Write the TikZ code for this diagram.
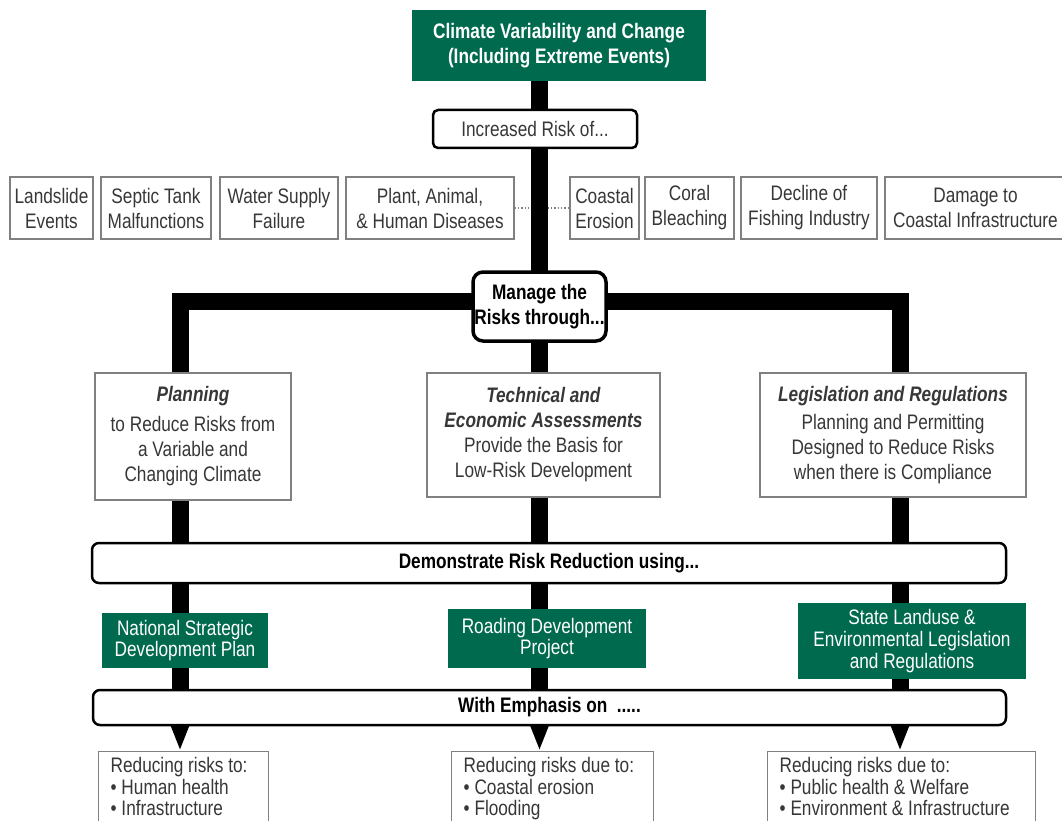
\documentclass[tikz,border=0pt]{standalone}
\usepackage{fontspec}
\setmainfont{Liberation Sans}[FakeStretch=0.82]
\usetikzlibrary{arrows.meta,backgrounds}
\definecolor{climgreen}{RGB}{0,106,78}
\definecolor{boxtext}{RGB}{55,55,55}

\begin{document}
\begin{tikzpicture}[x=1pt,y=-1pt,
	every node/.style={font=\fontsize{21}{25}\selectfont},
	greenbox/.style={fill=climgreen,text=white,align=center,inner sep=0pt},
	riskbox/.style={draw=gray,line width=1.4pt,fill=white,text=boxtext,align=center,inner sep=0pt,minimum height=62pt},
	mainbox/.style={draw=gray,line width=1.4pt,fill=white,text=boxtext,align=center,inner sep=0pt},
	roundbox/.style={draw=black,line width=2.5pt,rounded corners=7pt,fill=white,align=center,inner sep=0pt,font=\fontsize{21}{25}\selectfont\bfseries},
	outcome/.style={draw=gray,line width=1.4pt,fill=white,text=boxtext,align=flush left,anchor=north west,inner xsep=12pt,inner ysep=6pt,text depth=60pt,font=\fontsize{21}{21.5}\selectfont},
	spine/.style={line width=17pt,black},
	tip/.style={-{Triangle[width=17pt,length=26pt]}}
]
	\useasboundingbox (0,0) rectangle (1062,821);
	\clip (0,0) rectangle (1062,821);

	\node[greenbox,minimum width=294pt,minimum height=71pt,font=\fontsize{21}{25}\selectfont\bfseries] (climate) at (559,45.5) {Climate Variability and Change\\(Including Extreme Events)};
	\node[roundbox,rounded corners=5pt,minimum width=204pt,minimum height=38pt,text=boxtext,font=\fontsize{21}{25}\selectfont] (incr) at (535,129) {Increased Risk of...};

	\node[riskbox,minimum width=83pt] (landslide) at (51.5,208) {Landslide\\Events};
	\node[riskbox,minimum width=110pt] (septic) at (156,208) {Septic Tank\\Malfunctions};
	\node[riskbox,minimum width=118pt] (water) at (279,208) {Water Supply\\Failure};
	\node[riskbox,minimum width=168pt] (disease) at (430,208) {Plant, Animal,\\\& Human Diseases};
	\node[riskbox,minimum width=69pt] (coastal) at (604.5,208) {Coastal\\Erosion};
	\node[riskbox,minimum width=89pt] (coral) at (689.5,208) {Coral\\Bleaching};
	\node[riskbox,minimum width=136pt] (fishing) at (809,208) {Decline of\\Fishing Industry};
	\node[riskbox,minimum width=181pt] (damage) at (975.5,208) {Damage to\\Coastal Infrastructure};

	\node[roundbox,line width=3.5pt,rounded corners=10pt,minimum width=133pt,minimum height=69pt] (manage) at (539.5,306.5) {Manage the\\Risks through...};
	\coordinate (lturn) at (180,301);
	\coordinate (rturn) at (900,301);

	\node[mainbox,minimum width=196pt,minimum height=127pt] (plan) at (193,436.5) {\textbf{\textit{Planning}}\\[5pt]to Reduce Risks from\\a Variable and\\Changing Climate};
	\node[mainbox,minimum width=233pt,minimum height=124pt] (tech) at (543.5,435) {\textbf{\textit{Technical and}}\\\textbf{\textit{Economic Assessments}}\\Provide the Basis for\\Low-Risk Development};
	\node[mainbox,minimum width=266pt,minimum height=124pt] (legis) at (893,435) {\textbf{\textit{Legislation and Regulations}}\\[3pt]Planning and Permitting\\Designed to Reduce Risks\\when there is Compliance};

	\node[roundbox,minimum width=914pt,minimum height=40pt] (demo) at (549,563) {Demonstrate Risk Reduction using...};

	\node[greenbox,minimum width=166pt,minimum height=55pt,font=\fontsize{21}{21}\selectfont] (natl) at (185,640.5) {National Strategic\\Development Plan};
	\node[greenbox,minimum width=198pt,minimum height=59pt,font=\fontsize{21}{21}\selectfont] (road) at (547,638.5) {Roading Development\\Project};
	\node[greenbox,minimum width=228pt,minimum height=76pt,font=\fontsize{21}{22}\selectfont] (state) at (912,641) {State Landuse \&\\Environmental Legislation\\and Regulations};

	\node[roundbox,minimum width=913pt,minimum height=35pt] (emph) at (549.5,707.5) {With Emphasis on\ \ .....};

	\node[outcome,text width=146pt] (outL) at (98,751) {Reducing risks to:\\• Human health\\• Infrastructure};
	\node[outcome,text width=178pt] (outM) at (451,751) {Reducing risks due to:\\• Coastal erosion\\• Flooding};
	\node[outcome,text width=244pt] (outR) at (767,751) {Reducing risks due to:\\• Public health \& Welfare\\• Environment \& Infrastructure};

	\begin{pgfonlayer}{background}
		\draw[dotted,gray,line width=1.3pt] (disease.east) -- (coastal.west);
		\draw[spine,tip] (climate.south -| manage) -- (manage |- outM.north);
		\draw[spine,tip] (manage |- lturn) -- (lturn) -- (lturn |- outL.north);
		\draw[spine,tip] (manage |- rturn) -- (rturn) -- (rturn |- outR.north);
	\end{pgfonlayer}
\end{tikzpicture}
\end{document}
